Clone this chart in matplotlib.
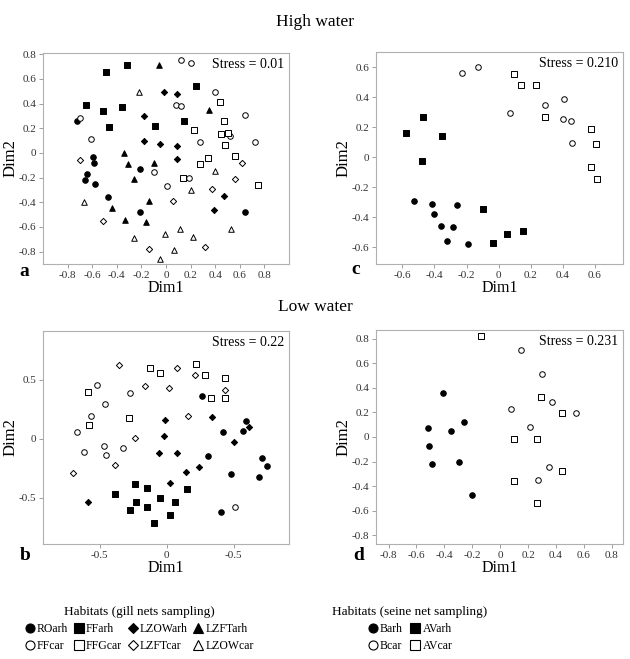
import matplotlib
matplotlib.use('Agg')
import matplotlib.pyplot as plt
from matplotlib.lines import Line2D

plt.rcParams['font.family'] = ['Liberation Serif', 'DejaVu Serif']

# panel a - high water, gill nets
a_ROarh_x = [-0.72, -0.59, -0.585, -0.64, -0.655, -0.58, -0.47, -0.21, -0.21, 0.645]
a_ROarh_y = [0.255, -0.03, -0.08, -0.17, -0.22, -0.25, -0.36, -0.475, -0.13, -0.48]
a_FFarh_x = [-0.49, -0.32, 0.24, -0.65, -0.51, -0.36, -0.46, -0.09, 0.145]
a_FFarh_y = [0.655, 0.71, 0.545, 0.39, 0.34, 0.37, 0.21, 0.22, 0.26]
a_LZOWarh_x = [-0.02, 0.09, -0.18, -0.18, -0.05, 0.09, 0.09, 0.47, 0.39]
a_LZOWarh_y = [0.49, 0.48, 0.30, 0.10, 0.075, 0.06, -0.05, -0.35, -0.46]
a_LZFTarh_x = [-0.06, 0.35, -0.34, -0.31, -0.10, -0.26, -0.14, -0.44, -0.33, -0.16]
a_LZFTarh_y = [0.71, 0.35, 0.0, -0.09, -0.08, -0.21, -0.39, -0.45, -0.54, -0.56]
a_FFcar_x = [0.12, 0.20, -0.70, -0.61, 0.08, 0.125, 0.40, 0.64, 0.28, 0.52, 0.72, -0.10, 0.01, 0.19]
a_FFcar_y = [0.75, 0.73, 0.285, 0.11, 0.385, 0.38, 0.49, 0.31, 0.085, 0.14, 0.09, -0.155, -0.27, -0.205]
a_FFGcar_x = [0.23, 0.44, 0.47, 0.45, 0.50, 0.48, 0.34, 0.28, 0.56, 0.14, 0.75]
a_FFGcar_y = [0.185, 0.41, 0.26, 0.15, 0.16, 0.065, -0.04, -0.09, -0.025, -0.205, -0.26]
a_LZFTcar_x = [-0.70, 0.62, 0.56, 0.37, 0.06, -0.51, -0.14, 0.32]
a_LZFTcar_y = [-0.06, -0.08, -0.215, -0.295, -0.39, -0.555, -0.78, -0.76]
a_LZOWcar_x = [-0.22, 0.40, 0.20, -0.67, 0.11, 0.53, -0.005, -0.26, 0.22, 0.065, -0.05]
a_LZOWcar_y = [0.49, -0.15, -0.30, -0.40, -0.62, -0.62, -0.66, -0.69, -0.685, -0.79, -0.86]

# panel c - high water, seine net
c_Barh_x = [-0.525, -0.417, -0.40, -0.26, -0.36, -0.285, -0.32, -0.19]
c_Barh_y = [-0.292, -0.31, -0.38, -0.316, -0.459, -0.463, -0.56, -0.574]
c_AVarh_x = [-0.47, -0.58, -0.356, -0.48, -0.10, -0.035, 0.054, 0.15]
c_AVarh_y = [0.27, 0.158, 0.14, -0.022, -0.347, -0.568, -0.51, -0.49]
c_Bcar_x = [-0.23, -0.13, 0.073, 0.29, 0.41, 0.40, 0.45, 0.46]
c_Bcar_y = [0.56, 0.60, 0.296, 0.35, 0.39, 0.256, 0.24, 0.098]
c_AVcar_x = [0.094, 0.14, 0.235, 0.29, 0.58, 0.61, 0.58, 0.615]
c_AVcar_y = [0.557, 0.483, 0.48, 0.27, 0.187, 0.091, -0.067, -0.145]

# panel b - low water, gill nets
b_ROarh_x = [0.266, 0.42, 0.592, 0.572, 0.308, 0.478, 0.716, 0.751, 0.692, 0.405]
b_ROarh_y = [0.361, 0.059, 0.146, 0.065, -0.146, -0.296, -0.161, -0.228, -0.324, -0.623]
b_FFarh_x = [-0.239, -0.147, -0.386, -0.231, -0.271, -0.149, -0.052, 0.065, 0.154, 0.025, -0.095]
b_FFarh_y = [-0.383, -0.42, -0.47, -0.535, -0.603, -0.58, -0.501, -0.535, -0.428, -0.645, -0.713]
b_LZOWarh_x = [-0.01, -0.017, 0.338, 0.614, 0.502, -0.06, 0.08, 0.142, 0.241, 0.025, -0.592]
b_LZOWarh_y = [0.161, 0.025, 0.18, 0.101, -0.028, -0.121, -0.124, -0.282, -0.239, -0.372, -0.538]
b_FFcar_x = [-0.522, -0.271, -0.463, -0.567, -0.667, -0.617, -0.47, -0.455, -0.328, 0.51]
b_FFcar_y = [0.454, 0.389, 0.296, 0.194, 0.054, -0.11, -0.062, -0.141, -0.079, -0.575]
b_FFGcar_x = [-0.124, -0.05, 0.219, 0.289, 0.438, 0.331, 0.438, -0.59, -0.582, -0.279]
b_FFGcar_y = [0.60, 0.558, 0.628, 0.535, 0.515, 0.341, 0.344, 0.394, 0.118, 0.172]
b_LZFTcar_x = [-0.36, 0.08, 0.214, -0.164, 0.017, 0.44, 0.157, -0.24, -0.70, -0.39]
b_LZFTcar_y = [0.62, 0.594, 0.538, 0.442, 0.428, 0.408, 0.194, 0.008, -0.29, -0.22]
b_xtick_labels = ['-0.5', '0', '-0.5']

# panel d - low water, seine net
d_Barh_x = [-0.41, -0.52, -0.257, -0.35, -0.513, -0.487, -0.293, -0.20]
d_Barh_y = [0.355, 0.073, 0.125, 0.051, -0.073, -0.22, -0.20, -0.47]
d_Bcar_x = [0.151, 0.30, 0.372, 0.074, 0.544, 0.213, 0.35, 0.273]
d_Bcar_y = [0.707, 0.515, 0.285, 0.228, 0.198, 0.084, -0.241, -0.347]
d_AVcar_x = [-0.139, 0.293, 0.441, 0.098, 0.266, 0.441, 0.10, 0.266]
d_AVcar_y = [0.818, 0.325, 0.192, -0.014, -0.016, -0.276, -0.36, -0.537]

gill_labels = ['ROarh', 'FFcar', 'FFarh', 'FFGcar', 'LZOWarh', 'LZFTcar', 'LZFTarh', 'LZOWcar']
seine_labels = ['Barh', 'Bcar', 'AVarh', 'AVcar']

# marker style per habitat: (marker, filled)
style = {
    'ROarh': ('o', True), 'FFcar': ('o', False),
    'FFarh': ('s', True), 'FFGcar': ('s', False),
    'LZOWarh': ('D', True), 'LZFTcar': ('D', False),
    'LZFTarh': ('^', True), 'LZOWcar': ('^', False),
    'Barh': ('o', True), 'Bcar': ('o', False),
    'AVarh': ('s', True), 'AVcar': ('s', False),
}
sizes = {'o': 16, 's': 16, 'D': 10, '^': 16}

W, H = 630, 659
fig = plt.figure(figsize=(W / 100, H / 100), dpi=100)


def make_ax(left, top, right, bottom):
    return fig.add_axes([left / W, 1 - bottom / H, (right - left) / W, (bottom - top) / H])


def draw(ax, name, xs, ys):
    m, filled = style[name]
    ax.scatter(xs, ys, s=sizes[m], marker=m,
               facecolors='black' if filled else 'white',
               edgecolors='black', linewidths=0.7, zorder=3)


def style_ax(ax, stress):
    for sp in ax.spines.values():
        sp.set_color('#b0b0b0')
        sp.set_linewidth(0.8)
    ax.tick_params(direction='out', length=3, width=0.6, color='#909090',
                   labelsize=8, labelcolor='#333333', pad=2)
    ax.text(0.98, 0.975, stress, transform=ax.transAxes, ha='right', va='top', fontsize=10)
    ax.set_xlabel('Dim1', fontsize=11.5, labelpad=0)
    ax.set_ylabel('Dim2', fontsize=12, labelpad=0)


ax_a = make_ax(43, 53, 289, 264)
draw(ax_a, 'ROarh', a_ROarh_x, a_ROarh_y)
draw(ax_a, 'FFarh', a_FFarh_x, a_FFarh_y)
draw(ax_a, 'LZOWarh', a_LZOWarh_x, a_LZOWarh_y)
draw(ax_a, 'LZFTarh', a_LZFTarh_x, a_LZFTarh_y)
draw(ax_a, 'FFcar', a_FFcar_x, a_FFcar_y)
draw(ax_a, 'FFGcar', a_FFGcar_x, a_FFGcar_y)
draw(ax_a, 'LZFTcar', a_LZFTcar_x, a_LZFTcar_y)
draw(ax_a, 'LZOWcar', a_LZOWcar_x, a_LZOWcar_y)
ax_a.set_xlim(-1.0, 1.0)
ax_a.set_ylim(-0.9, 0.81)
ax_a.set_xticks([-0.8, -0.6, -0.4, -0.2, 0, 0.2, 0.4, 0.6, 0.8])
ax_a.set_xticklabels(['-0.8', '-0.6', '-0.4', '-0.2', '0', '0.2', '0.4', '0.6', '0.8'])
ax_a.set_yticks([-0.8, -0.6, -0.4, -0.2, 0, 0.2, 0.4, 0.6, 0.8])
ax_a.set_yticklabels(['-0.8', '-0.6', '-0.4', '-0.2', '0', '0.2', '0.4', '0.6', '0.8'])
style_ax(ax_a, 'Stress = 0.01')

ax_c = make_ax(376, 52, 623, 264)
draw(ax_c, 'Barh', c_Barh_x, c_Barh_y)
draw(ax_c, 'AVarh', c_AVarh_x, c_AVarh_y)
draw(ax_c, 'Bcar', c_Bcar_x, c_Bcar_y)
draw(ax_c, 'AVcar', c_AVcar_x, c_AVcar_y)
ax_c.set_xlim(-0.765, 0.777)
ax_c.set_ylim(-0.71, 0.70)
ax_c.set_xticks([-0.6, -0.4, -0.2, 0, 0.2, 0.4, 0.6])
ax_c.set_xticklabels(['-0.6', '-0.4', '-0.2', '0', '0.2', '0.4', '0.6'])
ax_c.set_yticks([-0.6, -0.4, -0.2, 0, 0.2, 0.4, 0.6])
ax_c.set_yticklabels(['-0.6', '-0.4', '-0.2', '0', '0.2', '0.4', '0.6'])
style_ax(ax_c, 'Stress = 0.210')

ax_b = make_ax(43, 331, 289, 544)
draw(ax_b, 'ROarh', b_ROarh_x, b_ROarh_y)
draw(ax_b, 'FFarh', b_FFarh_x, b_FFarh_y)
draw(ax_b, 'LZOWarh', b_LZOWarh_x, b_LZOWarh_y)
draw(ax_b, 'FFcar', b_FFcar_x, b_FFcar_y)
draw(ax_b, 'FFGcar', b_FFGcar_x, b_FFGcar_y)
draw(ax_b, 'LZFTcar', b_LZFTcar_x, b_LZFTcar_y)
ax_b.set_xlim(-0.925, 0.915)
ax_b.set_ylim(-0.89, 0.91)
ax_b.set_xticks([-0.5, 0, 0.5])
ax_b.set_xticklabels(b_xtick_labels)
ax_b.set_yticks([-0.5, 0, 0.5])
ax_b.set_yticklabels(['-0.5', '0', '0.5'])
style_ax(ax_b, 'Stress = 0.22')

ax_d = make_ax(376, 330, 623, 544)
draw(ax_d, 'Barh', d_Barh_x, d_Barh_y)
draw(ax_d, 'Bcar', d_Bcar_x, d_Bcar_y)
draw(ax_d, 'AVcar', d_AVcar_x, d_AVcar_y)
ax_d.set_xlim(-0.89, 0.88)
ax_d.set_ylim(-0.87, 0.87)
ticks_d = [-0.8, -0.6, -0.4, -0.2, 0, 0.2, 0.4, 0.6, 0.8]
labels_d = ['-0.8', '-0.6', '-0.4', '-0.2', '0', '0.2', '0.4', '0.6', '0.8']
ax_d.set_xticks(ticks_d)
ax_d.set_xticklabels(labels_d)
ax_d.set_yticks(ticks_d)
ax_d.set_yticklabels(labels_d)
style_ax(ax_d, 'Stress = 0.231')

# titles and panel letters
fig.text(315 / W, 1 - 22 / H, 'High water', ha='center', va='center', fontsize=12.5)
fig.text(315 / W, 1 - 307 / H, 'Low water', ha='center', va='center', fontsize=12.5)
for letter, px, py in [('a', 24, 272), ('c', 356, 270), ('b', 25, 556), ('d', 359, 556)]:
    fig.text(px / W, 1 - py / H, letter, ha='center', va='center', fontsize=14, fontweight='bold')


def handle(name):
    m, filled = style[name]
    return Line2D([], [], linestyle='none', marker=m, markersize=6.5 if m != 'D' else 5.5,
                  markerfacecolor='black' if filled else 'white',
                  markeredgecolor='black', markeredgewidth=0.8)


leg1 = fig.legend([handle(n) for n in gill_labels], gill_labels, ncol=4,
                  loc='upper center', bbox_to_anchor=(139 / W, 1 - 595 / H),
                  frameon=False, fontsize=8.5, handletextpad=0.15, columnspacing=0.45,
                  handlelength=0.9, labelspacing=0.45,
                  title='Habitats (gill nets sampling)', title_fontsize=9.5)
leg2 = fig.legend([handle(n) for n in seine_labels], seine_labels, ncol=2,
                  loc='upper center', bbox_to_anchor=(410 / W, 1 - 595 / H),
                  frameon=False, fontsize=8.5, handletextpad=0.15, columnspacing=0.6,
                  handlelength=0.9, labelspacing=0.45,
                  title='Habitats (seine net sampling)', title_fontsize=9.5)

fig.savefig('out.png', dpi=100)
